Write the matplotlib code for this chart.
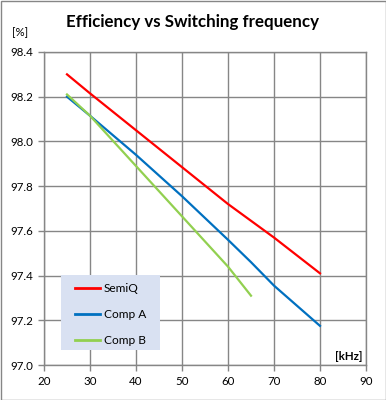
import matplotlib
matplotlib.use("Agg")
import matplotlib.pyplot as plt
from matplotlib.patches import Rectangle
from matplotlib.lines import Line2D

plt.rcParams["font.family"] = ["Lato", "DejaVu Sans"]

freq_semiq = [25, 30, 40, 50, 60, 70, 80]
eff_semiq = [98.30, 98.215, 98.05, 97.885, 97.72, 97.57, 97.41]

freq_comp_a = [25, 30, 40, 50, 60, 65, 70, 80]
eff_comp_a = [98.20, 98.115, 97.94, 97.755, 97.56, 97.46, 97.355, 97.175]

freq_comp_b = [25, 30, 40, 50, 60, 65]
eff_comp_b = [98.21, 98.115, 97.89, 97.665, 97.44, 97.31]

series_names = ["SemiQ", "Comp A", "Comp B"]
series_colors = ["#FF0000", "#0070C0", "#92D050"]

x_ticks = [20, 30, 40, 50, 60, 70, 80, 90]
y_ticks = [97.0, 97.2, 97.4, 97.6, 97.8, 98.0, 98.2, 98.4]

W, H = 386, 400
fig = plt.figure(figsize=(W / 100, H / 100), dpi=100)
ax = fig.add_axes([44 / W, 1 - 365 / H, (366 - 44) / W, (365 - 52) / H])

grid_col = "#868686"
for xs, ys, col in zip([freq_semiq, freq_comp_a, freq_comp_b],
                       [eff_semiq, eff_comp_a, eff_comp_b], series_colors):
    ax.plot(xs, ys, color=col, lw=1.6, zorder=3)

ax.set_xlim(20, 90)
ax.set_ylim(97.0, 98.4)
ax.set_xticks(x_ticks)
ax.set_yticks(y_ticks)
ax.set_yticklabels([f"{v:.1f}" for v in y_ticks])
ax.grid(True, color=grid_col, lw=1.0)
ax.set_axisbelow(True)
for s in ax.spines.values():
    s.set_color(grid_col)
    s.set_linewidth(1.0)
ax.tick_params(axis="both", colors=grid_col, length=4, width=1.0,
               labelsize=8.3, labelcolor="black")
ax.tick_params(axis="x", pad=4)
ax.tick_params(axis="y", pad=4)

# legend box
ax.add_patch(Rectangle((61 / W, 1 - 350 / H), 99 / W, 75 / H,
                       transform=fig.transFigure, facecolor="#D9E1F2",
                       edgecolor="none", zorder=4))
for i, (name, col) in enumerate(zip(series_names, series_colors)):
    y = 1 - (288 + i * 26) / H
    fig.add_artist(Line2D([75 / W, 100 / W], [y, y], color=col, lw=2.0,
                          transform=fig.transFigure, zorder=5))
    fig.text(104 / W, y, name, fontsize=8.6, va="center", ha="left", zorder=5)

fig.text(192 / W, 1 - 22 / H, "Efficiency vs Switching frequency",
         fontsize=12.2, fontweight="bold", ha="center", va="center")
fig.text(12 / W, 1 - 33 / H, "[%]", fontsize=8.3, ha="left", va="center")
fig.text(363 / W, 1 - 357 / H, "[kHz]", fontsize=8.3, fontweight="bold",
         ha="right", va="center")

fig.add_artist(Rectangle((0.5 / W, 0.5 / H), 1 - 1 / W, 1 - 1 / H,
                         transform=fig.transFigure, fill=False,
                         edgecolor="#868686", lw=1.0))

fig.savefig("out.png", dpi=100)
